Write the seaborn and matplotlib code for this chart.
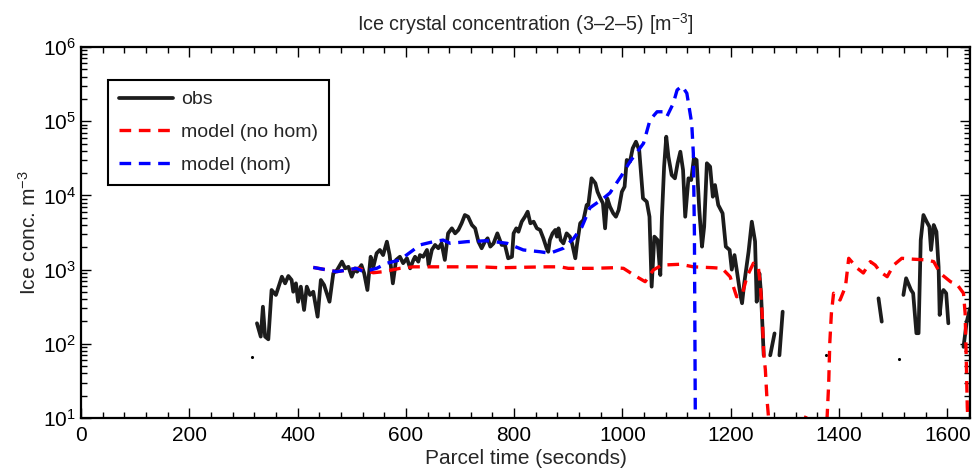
import numpy as np
import pandas as pd
import matplotlib
matplotlib.use("Agg")
import matplotlib.pyplot as plt
import seaborn as sns
from matplotlib.lines import Line2D
from matplotlib.ticker import MultipleLocator, LogLocator, NullFormatter, LogFormatterMathtext

# ---------------- data ----------------
# observed ice crystal concentration, split into contiguous segments (m^-3)
obs_time = [325, 332, 336, 340, 346, 352, 360, 371, 377, 383, 389, 392, 397, 401, 406, 412, 417, 423, 429, 437,
            443, 449, 459, 466, 473, 482, 488, 494, 500, 506, 510, 518, 523, 529, 535, 540, 546, 552, 558, 565,
            570, 576, 582, 589, 595, 602, 608, 614, 617, 623, 626, 632, 639, 642, 648, 654, 660, 666, 672, 678,
            685, 691, 697, 703, 709, 715, 722, 728, 734, 740, 746, 751, 756, 762, 769, 777, 783, 789, 796, 799,
            804, 808, 814, 820, 825, 830, 836, 842, 848, 854, 860, 863, 866, 871, 876, 879, 882, 886, 891, 897,
            903, 907, 913, 916, 922, 928, 934, 937, 943, 950, 954, 958, 964, 968, 972, 977, 983, 988, 993, 999,
            1004, 1008, 1014, 1019, 1025, 1031, 1038, 1045, 1050, 1054, 1059, 1065, 1070, 1073, 1077, 1081, 1085,
            1091, 1097, 1102, 1107, 1112, 1116, 1122, 1127, 1132, 1137, 1142, 1147, 1151, 1156, 1162, 1167, 1171,
            1177, 1185, 1191, 1198, 1202, 1207, 1212, 1218, 1221, 1225, 1233, 1239, 1245, 1248, 1253, 1256, 1261,
            1273, 1281,
            1290, 1296,
            1473, 1479,
            1519, 1524, 1533, 1537, 1543, 1547, 1551, 1556, 1562, 1567, 1570, 1575, 1580, 1584, 1586, 1590, 1593,
            1598, 1602,
            1630, 1636, 1642]
obs_conc = [189, 125, 316, 125, 115, 531, 455, 802, 653, 820, 724, 503, 653, 369, 589, 286, 589, 455, 503, 232,
            724, 620, 369, 891, 988, 1280, 1040, 1090, 802, 1040, 937, 1150, 891, 531, 1490, 1090, 1660, 1840, 1570, 2380,
            1570, 653, 1350, 1490, 1220, 1420, 1040, 1350, 1490, 1280, 1570, 1490, 1840, 1150, 1840, 2150, 1940, 2260, 1350, 3080,
            3600, 3080, 3420, 4210, 5440, 5160, 3990, 3600, 2380, 1940, 2380, 2640, 2040, 2260, 3080, 2150, 2150, 1420, 1490, 3080,
            3600, 3240, 4420, 5160, 6030, 4210, 4420, 3600, 3420, 2640, 1940, 1740, 2500, 3080, 3420, 2780, 3600, 2500, 2260, 3080,
            2780, 2260, 1420, 2150, 4210, 4660, 7430, 7430, 17000, 14600, 11200, 9600, 7830, 3600, 9140, 7050, 5740, 5160, 6360, 11200,
            13100, 30000, 28500, 43100, 52900, 40900, 9140, 8220, 5160, 589, 2780, 2500, 846, 5160, 24400, 61800, 33200,
            18800, 17000, 27100, 38800, 22000, 5160, 17000, 16100, 31600, 30000, 6360, 2040, 3790, 27100, 24400, 9600, 13800,
            7430, 5740, 2040, 1840, 1000, 1570, 900, 450, 352, 653, 1740, 4420, 2400, 369, 891, 480, 70,
            70, 138,
            70, 271,
            410, 199,
            455, 764, 531, 480, 139, 139, 2500, 5440, 4420, 3790, 1840, 3990, 3240, 1090, 245, 480, 531,
            480, 189,
            91, 199, 300]
obs_segment_len = [171, 2, 2, 2, 19, 3]

# isolated single observations
dot_time = [315, 1376, 1510]
dot_conc = [67, 70, 62]

# model without homogeneous freezing
nohom_time = [429, 472, 512, 540, 558, 589, 614, 663, 700, 737, 774, 860, 885, 900, 946, 984, 1002, 1021, 1042,
              1057, 1073, 1107, 1131, 1168, 1184, 1199, 1211, 1221, 1230, 1242, 1251, 1255, 1258, 1261, 1264,
              1267, 1270, 1276, 1310, 1340, 1350, 1370, 1378, 1381, 1383, 1386, 1390, 1402, 1412, 1418, 1434,
              1445, 1458, 1467, 1476, 1489, 1501, 1516, 1538, 1562, 1575, 1587, 1606, 1618, 1630, 1633, 1635,
              1637, 1640]
nohom_conc = [1070, 937, 1040, 907, 937, 1040, 1090, 1090, 1090, 1090, 1060, 1090, 1090, 1040, 1040, 1060, 1040, 846, 687,
              988, 1150, 1180, 1090, 1060, 1040, 800, 431, 455, 802, 1220, 1090, 589, 258, 74, 45,
              18, 10, 4, 3, 11, 6, 4, 10, 29, 102, 258, 480, 389, 589, 1420, 1040,
              900, 1280, 1150, 937, 802, 1150, 1420, 1380, 1350, 1280, 891, 687, 631, 480, 258, 67,
              14, 5]

# model with homogeneous freezing
hom_time = [429, 472, 509, 522, 546, 565, 589, 614, 626, 651, 669, 682, 713, 750, 787, 817, 848, 866, 891, 910,
            925, 940, 965, 977, 999, 1014, 1039, 1051, 1064, 1076, 1082, 1094, 1101, 1110, 1119, 1128, 1131,
            1133, 1135]
hom_conc = [1070, 937, 1040, 937, 1040, 1220, 1350, 1840, 2150, 2380, 2500, 2260, 2380, 2450, 2260, 1840, 1740, 1660,
            1940, 2640, 3740, 6800, 9140, 10800, 18800, 28500, 50400, 104000, 134000, 134000, 115000, 174000,
            263000, 298000, 238000, 93700, 36900, 3000, 3]

x_ticks = [0, 200, 400, 600, 800, 1000, 1200, 1400, 1600]
labels = ["obs", "model (no hom)", "model (hom)"]

# ---------------- plot ----------------
sns.set_style("ticks")
plt.rcParams["font.family"] = ["Liberation Sans", "DejaVu Sans"]
plt.rcParams["mathtext.default"] = "regular"
plt.rcParams["mathtext.fontset"] = "custom"
plt.rcParams["mathtext.rm"] = "Liberation Sans"
plt.rcParams["mathtext.it"] = "Liberation Sans"

fig = plt.figure(figsize=(9.72, 4.70), dpi=100)
ax = fig.add_axes([81 / 972, 52 / 470, 889 / 972, 371 / 470])

obs_seg = np.repeat(np.arange(len(obs_segment_len)), obs_segment_len)
obs_df = pd.DataFrame({"time": obs_time, "conc": obs_conc, "seg": obs_seg})
sns.lineplot(data=obs_df, x="time", y="conc", units="seg", estimator=None, sort=False,
             color="#1c1c1c", lw=2.7, ax=ax, legend=False)
n0 = len(ax.lines)
sns.lineplot(x=nohom_time, y=nohom_conc, estimator=None, sort=False, color="#ff0000", lw=2.4, ax=ax)
sns.lineplot(x=hom_time, y=hom_conc, estimator=None, sort=False, color="#0000ff", lw=2.4, ax=ax)
dash = (3.5, 2.3)
for ln in ax.lines[n0:]:
    ln.set_dashes(dash)
sns.scatterplot(x=dot_time, y=dot_conc, color="black", s=5, linewidth=0, ax=ax)

ax.set_yscale("log")
ax.set_xlim(0, 1642)
ax.set_ylim(10, 1e6)
ax.set_xticks(x_ticks)
ax.xaxis.set_minor_locator(MultipleLocator(40))
ax.yaxis.set_major_locator(LogLocator(base=10, numticks=10))
ax.yaxis.set_minor_locator(LogLocator(base=10, subs=np.arange(2, 10), numticks=20))
ax.yaxis.set_major_formatter(LogFormatterMathtext())
ax.yaxis.set_minor_formatter(NullFormatter())
ax.tick_params(which="both", direction="in", top=True, right=True, colors="black",
               labelsize=15, width=1.0)
ax.tick_params(axis="x", which="major", pad=6)
ax.tick_params(which="major", length=7)
ax.tick_params(which="minor", length=4)
for s in ax.spines.values():
    s.set_linewidth(1.6)
    s.set_color("black")

ax.set_xlabel("Parcel time (seconds)", fontsize=15, labelpad=3)
ax.set_ylabel("Ice conc. m$^{-3}$", fontsize=15, labelpad=2)
ax.set_title("Ice crystal concentration (3\u20132\u20135) [m$^{-3}$]", fontsize=14.2, pad=12)

handles = [Line2D([], [], color="#1c1c1c", lw=2.7),
           Line2D([], [], color="#ff0000", lw=2.4, dashes=dash),
           Line2D([], [], color="#0000ff", lw=2.4, dashes=dash)]
leg = ax.legend(handles, labels, loc="upper left", bbox_to_anchor=(0.0305, 0.911),
                fontsize=14, frameon=True, fancybox=False, edgecolor="black",
                handlelength=2.8, handletextpad=0.4, borderpad=0.55, labelspacing=0.78,
                borderaxespad=0)
leg.get_frame().set_linewidth(1.5)
leg.get_frame().set_alpha(1)

fig.savefig("out.png", dpi=100)
